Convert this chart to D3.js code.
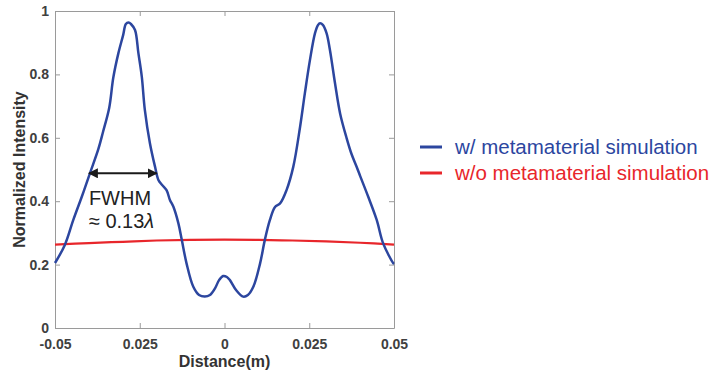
<!DOCTYPE html>
<html>
<head>
<meta charset="utf-8">
<script src="https://cdn.jsdelivr.net/npm/d3@7"></script>
<style>
  body { margin: 0; background: #fff; }
  text { font-family: "Liberation Sans", Arial, sans-serif; }
</style>
</head>
<body>
<div id="chart"></div>
<script>
// distance (m) and normalized intensity
var withX = [-0.05, -0.0471, -0.0446, -0.0421, -0.0397, -0.0372, -0.0358, -0.0340, -0.0328, -0.0313,
    -0.0299, -0.0291, -0.0283, -0.0276, -0.0264, -0.0254, -0.0244, -0.0235, -0.0220, -0.0205,
    -0.0195, -0.0184, -0.0171, -0.0161, -0.0151, -0.0136, -0.0126, -0.0112, -0.0092, -0.0075,
    -0.0058, -0.0043, -0.0028, -0.0016, -0.0004, 0.0007, 0.0016, 0.0034, 0.0055, 0.0069,
    0.0085, 0.0105, 0.0119, 0.0134, 0.0149, 0.0164, 0.0183, 0.0203, 0.0223, 0.0237,
    0.0252, 0.0267, 0.0276, 0.0282, 0.0290, 0.0301, 0.0311, 0.0326, 0.0341, 0.0360,
    0.0375, 0.0390, 0.0400, 0.0424, 0.0449, 0.0468, 0.0498, 0.05];
var withY = [0.205, 0.262, 0.341, 0.414, 0.488, 0.565, 0.620, 0.695, 0.790, 0.867,
    0.924, 0.959, 0.964, 0.959, 0.940, 0.867, 0.793, 0.688, 0.583, 0.509,
    0.467, 0.451, 0.435, 0.404, 0.383, 0.330, 0.278, 0.204, 0.130, 0.104,
    0.099, 0.104, 0.125, 0.151, 0.164, 0.161, 0.151, 0.120, 0.099, 0.104,
    0.130, 0.204, 0.278, 0.341, 0.382, 0.393, 0.435, 0.509, 0.635, 0.740,
    0.845, 0.930, 0.956, 0.961, 0.956, 0.930, 0.877, 0.772, 0.677, 0.600,
    0.548, 0.508, 0.480, 0.414, 0.341, 0.267, 0.204, 0.202];

var withoutX = [-0.05, -0.04, -0.03, -0.02, -0.01, 0, 0.01, 0.02, 0.03, 0.04, 0.05];
var withoutY = [0.263, 0.268, 0.272, 0.276, 0.278, 0.279, 0.278, 0.276, 0.273, 0.269, 0.263];

var xTicks = [-0.05, -0.025, 0, 0.025, 0.05];
var xTickLabels = ["-0.05", "0.025", "0", "0.025", "0.05"];
var yTicks = [0, 0.2, 0.4, 0.6, 0.8, 1];
var yTickLabels = ["0", "0.2", "0.4", "0.6", "0.8", "1"];

var seriesNames = ["w/ metamaterial simulation", "w/o metamaterial simulation"];
var seriesColors = ["#2c469f", "#e8262b"];

// FWHM marker: from / to distance, at intensity
var fwhmX = [-0.0400, -0.0200];
var fwhmY = 0.488;

var margin = {top: 11, right: 329, bottom: 50, left: 55};
var width = 723 - margin.left - margin.right;
var height = 378 - margin.top - margin.bottom;

var svg = d3.select("#chart")
    .append("svg")
    .attr("width", 723)
    .attr("height", 378);

var defs = svg.append("defs");
defs.append("marker")
    .attr("id", "arrow")
    .attr("viewBox", "0 0 10 10")
    .attr("refX", 9)
    .attr("refY", 5)
    .attr("markerWidth", 5)
    .attr("markerHeight", 5)
    .attr("orient", "auto-start-reverse")
    .append("path")
    .attr("d", "M0,0 L10,5 L0,10 z")
    .attr("fill", "#1a1a1a");

var g = svg.append("g")
    .attr("transform", "translate(" + margin.left + "," + margin.top + ")");

var x = d3.scaleLinear().domain([-0.05, 0.05]).range([0, width]);
var y = d3.scaleLinear().domain([0, 1]).range([height, 0]);

// box + inward ticks on all sides
var axisColor = "#9a9a9a";
function styleAxis(sel) {
    sel.select(".domain").attr("stroke", axisColor);
    sel.selectAll(".tick line").attr("stroke", axisColor);
    sel.selectAll("text")
        .style("font-size", "14px")
        .style("font-weight", "bold")
        .attr("fill", "#404040");
}

var xAxis = g.append("g")
    .attr("transform", "translate(0," + height + ")")
    .call(d3.axisBottom(x).tickValues(xTicks).tickSizeInner(-5).tickSizeOuter(0)
        .tickPadding(11).tickFormat((d, i) => xTickLabels[i]));
styleAxis(xAxis);

var yAxis = g.append("g")
    .call(d3.axisLeft(y).tickValues(yTicks).tickSizeInner(-5).tickSizeOuter(0)
        .tickPadding(6).tickFormat((d, i) => yTickLabels[i]));
styleAxis(yAxis);

var topAxis = g.append("g")
    .call(d3.axisTop(x).tickValues(xTicks).tickSizeInner(-5).tickSizeOuter(0).tickFormat(""));
styleAxis(topAxis);

var rightAxis = g.append("g")
    .attr("transform", "translate(" + width + ",0)")
    .call(d3.axisRight(y).tickValues(yTicks).tickSizeInner(-5).tickSizeOuter(0).tickFormat(""));
styleAxis(rightAxis);

// curves
var line = d3.line()
    .x(d => x(d[0]))
    .y(d => y(d[1]))
    .curve(d3.curveCatmullRom.alpha(0.5));

g.append("path")
    .datum(withoutX.map((d, i) => [d, withoutY[i]]))
    .attr("fill", "none")
    .attr("stroke", seriesColors[1])
    .attr("stroke-width", 2.2)
    .attr("d", line);

g.append("path")
    .datum(withX.map((d, i) => [d, withY[i]]))
    .attr("fill", "none")
    .attr("stroke", seriesColors[0])
    .attr("stroke-width", 2.5)
    .attr("stroke-linejoin", "round")
    .attr("d", line);

// FWHM arrow and text
g.append("line")
    .attr("x1", x(fwhmX[0]))
    .attr("x2", x(fwhmX[1]))
    .attr("y1", y(fwhmY))
    .attr("y2", y(fwhmY))
    .attr("stroke", "#1a1a1a")
    .attr("stroke-width", 2)
    .attr("marker-start", "url(#arrow)")
    .attr("marker-end", "url(#arrow)");

g.append("text")
    .attr("x", x(fwhmX[0]))
    .attr("y", y(fwhmY) + 32)
    .attr("fill", "#222")
    .style("font-size", "20px")
    .text("FWHM");

var t2 = g.append("text")
    .attr("x", x(fwhmX[0]))
    .attr("y", y(fwhmY) + 55)
    .attr("fill", "#222")
    .style("font-size", "20px");
t2.append("tspan").text("\u2248 0.13");
t2.append("tspan").style("font-style", "italic").text("\u03bb");

// axis labels
g.append("text")
    .attr("text-anchor", "middle")
    .attr("x", width / 2)
    .attr("y", height + 39)
    .attr("fill", "#333")
    .style("font-size", "16px")
    .style("font-weight", "bold")
    .text("Distance(m)");

g.append("text")
    .attr("text-anchor", "middle")
    .attr("transform", "translate(" + (25 - margin.left) + "," + (height / 2) + ") rotate(-90)")
    .attr("fill", "#333")
    .style("font-size", "16px")
    .style("font-weight", "bold")
    .text("Normalized Intensity");

// legend
var legend = svg.append("g")
    .attr("transform", "translate(420,147)");

legend.selectAll("line")
    .data(seriesNames)
    .join("line")
    .attr("x1", 0)
    .attr("x2", 22)
    .attr("y1", (d, i) => i * 26)
    .attr("y2", (d, i) => i * 26)
    .attr("stroke", (d, i) => seriesColors[i])
    .attr("stroke-width", 3);

legend.selectAll("text")
    .data(seriesNames)
    .join("text")
    .attr("x", 35)
    .attr("y", (d, i) => i * 26 + 6.5)
    .attr("fill", (d, i) => seriesColors[i])
    .style("font-size", "20.5px")
    .text(d => d);
</script>
</body>
</html>
